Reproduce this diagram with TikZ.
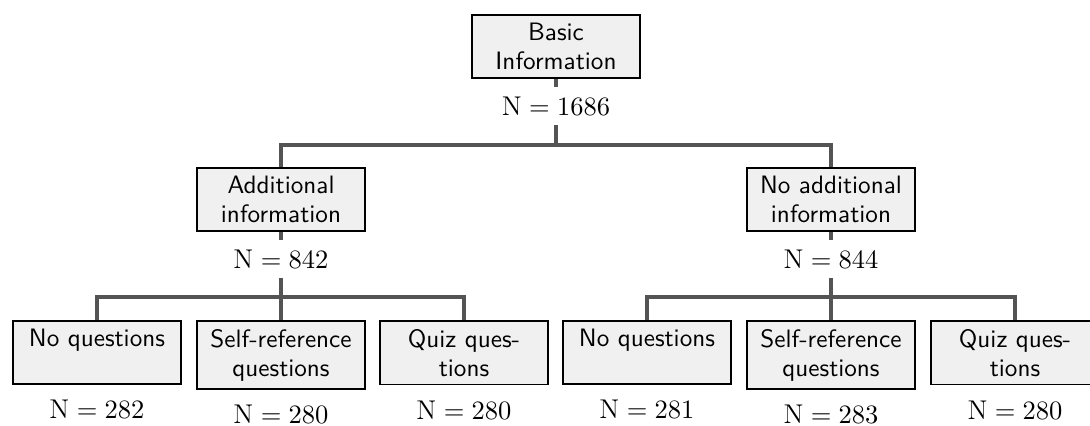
\documentclass[tikz,border=0pt]{standalone}
\usepackage{fontspec}
\usetikzlibrary{positioning}
\renewcommand{\familydefault}{\sfdefault}

\tikzset{
    box/.style = {draw=black, fill=black!6, line width=0.8pt, text width=62.5pt,
                  align=center, anchor=north, inner sep=3.33pt,
                  font=\fontsize{10.4}{12}\selectfont},
    count/.style = {inner sep=3.8pt, font=\fontsize{11.2}{13}\selectfont},
    link/.style = {draw=black!67, line width=1.4pt},
}

\begin{document}
\begin{tikzpicture}[x=0.413pt, y=0.413pt]
    \useasboundingbox (0,0) rectangle (1090,-425);

    % Draw the boxes
    \node[box] (root) at (556,-14) {Basic\\Information};
    \node[box] (add) at (281,-167) {Additional\\information};
    \node[box] (noadd) at (831,-167) {No additional\\information};

    \node[box] (anq) at (97,-320) {No questions\\\mbox{}};
    \node[box] (asr) at (281,-320) {Self-reference\\questions};
    \node[box] (aqq) at (464,-320) {Quiz ques-\\tions};
    \node[box] (bnq) at (647,-320) {No questions\\\mbox{}};
    \node[box] (bsr) at (831,-320) {Self-reference\\questions};
    \node[box] (bqq) at (1015,-320) {Quiz ques-\\tions};

    % Sample sizes
    \node[count, below=3.4pt of root] (nroot) {$\mathrm{N} = 1686$};
    \node[count, below=3.4pt of add] (nadd) {$\mathrm{N} = 842$};
    \node[count, below=3.4pt of noadd] (nnoadd) {$\mathrm{N} = 844$};
    \node[count, below=2.3pt of anq] (nanq) {$\mathrm{N} = 282$};
    \node[count, below=2.3pt of asr] (nasr) {$\mathrm{N} = 280$};
    \node[count, below=2.3pt of aqq] (naqq) {$\mathrm{N} = 280$};
    \node[count, below=2.3pt of bnq] (nbnq) {$\mathrm{N} = 281$};
    \node[count, below=2.3pt of bsr] (nbsr) {$\mathrm{N} = 283$};
    \node[count, below=2.3pt of bqq] (nbqq) {$\mathrm{N} = 280$};

    % Branching points
    \coordinate (rootbar) at (556,-145);
    \coordinate (addbar) at (281,-297);
    \coordinate (noaddbar) at (831,-297);

    % Draw the connectors
    \draw[link] (root) -- (nroot);
    \draw[link] (nroot) -- (rootbar);
    \draw[link] (add.north) -- (add.north |- rootbar) -- (noadd.north |- rootbar) -- (noadd.north);

    \draw[link] (add) -- (nadd);
    \draw[link] (nadd) -- (addbar) -- (asr.north);
    \draw[link] (anq.north) -- (anq.north |- addbar) -- (aqq.north |- addbar) -- (aqq.north);

    \draw[link] (noadd) -- (nnoadd);
    \draw[link] (nnoadd) -- (noaddbar) -- (bsr.north);
    \draw[link] (bnq.north) -- (bnq.north |- noaddbar) -- (bqq.north |- noaddbar) -- (bqq.north);
\end{tikzpicture}
\end{document}
